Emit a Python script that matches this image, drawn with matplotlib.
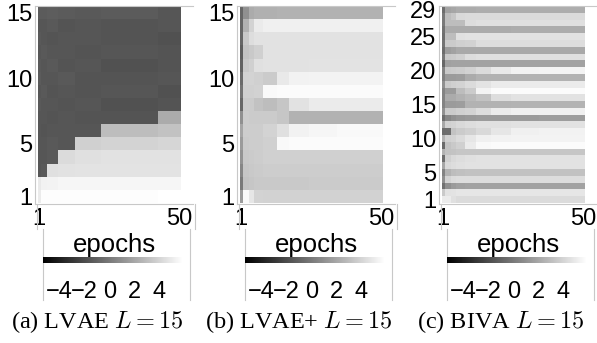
import numpy as np
import matplotlib
matplotlib.use("Agg")
import matplotlib.pyplot as plt

plt.rcParams["font.family"] = ["Liberation Sans", "DejaVu Sans"]
plt.rcParams["mathtext.fontset"] = "cm"

# log-KL per layer (rows, layer 1 first) over epochs, piecewise constant
# segments: each row value holds from seg start epoch until the next start
epochs_total = 50
cbar_ticks = [-4, -2, 0, 2, 4]
v_min, v_max = -5.3, 5.9

a_seg_start = [1, 2, 4, 8, 14, 23, 43]
a_rows = [
    [5.0, 5.8, 5.8, 5.8, 5.8, 5.8, 5.9],
    [4.9, 5.3, 5.4, 5.5, 5.5, 5.5, 5.5],
    [-1.5, -1.4, 4.5, 4.6, 4.7, 4.7, 4.7],
    [-1.5, -1.5, -1.4, 4.3, 4.5, 4.6, 4.6],
    [-1.5, -1.5, -1.4, -1.5, 3.8, 4.0, 4.1],
    [-1.5, -1.6, -1.5, -1.5, -1.5, 3.0, 3.2],
    [-1.5, -1.5, -1.6, -1.5, -1.6, -1.6, 2.2],
    [-1.4, -1.5, -1.5, -1.6, -1.5, -1.7, -1.6],
    [-1.5, -1.4, -1.6, -1.5, -1.6, -1.5, -1.7],
    [-1.3, -1.5, -1.5, -1.4, -1.6, -1.6, -1.5],
    [-1.4, -1.5, -1.4, -1.6, -1.5, -1.7, -1.6],
    [-1.5, -1.4, -1.5, -1.5, -1.6, -1.5, -1.6],
    [-1.4, -1.5, -1.6, -1.5, -1.5, -1.6, -1.7],
    [-1.5, -1.5, -1.4, -1.6, -1.5, -1.6, -1.5],
    [-1.3, -1.3, -1.2, -1.3, -1.4, -1.3, -1.5],
]

b_seg_start = [1, 2, 4, 6, 9, 14, 18, 25, 35]
b_rows = [
    [1.5, 5.6, 4.8, 4.0, 3.9, 3.9, 3.9, 3.9, 3.9],
    [0.0, 3.3, 3.4, 3.5, 3.5, 3.5, 3.5, 3.6, 3.6],
    [0.6, 3.4, 3.5, 3.6, 3.7, 3.7, 3.7, 3.7, 3.7],
    [1.2, 3.5, 3.6, 3.7, 3.8, 3.8, 3.8, 3.8, 3.8],
    [1.5, 3.6, 3.7, 3.7, 3.8, 5.6, 5.7, 5.7, 5.7],
    [2.0, 3.7, 3.7, 3.7, 4.0, 4.5, 5.3, 5.5, 5.6],
    [1.0, 3.7, 3.6, 3.6, 3.6, 3.4, 2.5, 2.5, 2.5],
    [-0.8, 3.6, 3.6, 3.2, 3.0, 3.4, 4.6, 5.0, 5.0],
    [-0.2, 3.8, 3.8, 3.9, 5.6, 5.7, 5.7, 5.7, 5.7],
    [-0.6, 3.9, 4.0, 3.8, 3.6, 4.9, 5.3, 5.4, 5.4],
    [-1.0, 3.5, 3.8, 4.5, 4.6, 4.6, 4.6, 4.7, 4.7],
    [-1.2, 3.3, 3.5, 3.8, 4.6, 4.6, 4.6, 4.6, 4.6],
    [-0.8, 3.5, 4.4, 4.6, 4.6, 4.6, 4.6, 4.6, 4.6],
    [-0.8, 2.5, 4.0, 5.0, 5.2, 5.2, 5.2, 5.2, 5.2],
    [-0.8, 1.0, 2.2, 2.4, 2.4, 2.5, 2.5, 2.5, 2.5],
]

c_seg_start = [1, 2, 4, 6, 9, 13, 18, 25, 35]
c_rows = [
    [5.0, 5.0, 4.5, 4.3, 4.3, 4.3, 4.3, 4.3, 4.3],
    [3.5, 4.6, 4.7, 4.8, 4.8, 4.8, 4.8, 4.8, 4.8],
    [-0.3, 1.0, 1.5, 1.7, 1.8, 1.8, 1.8, 1.8, 1.8],
    [1.0, 4.0, 4.3, 4.4, 4.4, 4.4, 4.4, 4.4, 4.4],
    [0.5, 2.6, 3.0, 3.1, 3.2, 3.2, 3.2, 3.2, 3.2],
    [2.0, 4.2, 4.4, 4.5, 4.6, 4.6, 4.6, 4.6, 4.6],
    [-0.5, 3.8, 4.2, 4.4, 4.5, 4.6, 4.6, 4.6, 4.6],
    [2.5, 3.2, 3.3, 3.4, 3.4, 3.4, 3.4, 3.4, 3.4],
    [-0.7, 3.2, 3.5, 3.8, 5.0, 5.6, 5.7, 5.7, 5.7],
    [2.5, 3.8, 4.0, 4.3, 4.8, 5.2, 5.3, 5.4, 5.4],
    [-0.6, -0.5, 3.3, 3.6, 3.8, 4.2, 4.8, 5.2, 5.3],
    [2.0, 3.8, 4.0, 4.2, 4.4, 4.5, 4.5, 4.6, 4.6],
    [-0.5, 0.6, 1.0, 1.3, 1.4, 1.5, 1.5, 1.5, 1.6],
    [1.0, 3.6, 3.6, 3.8, 4.0, 4.4, 5.0, 5.2, 5.2],
    [0.5, 1.5, 1.5, 1.6, 2.5, 2.5, 2.5, 2.6, 2.6],
    [0.5, 2.2, 2.2, 2.5, 2.8, 3.2, 4.4, 4.6, 4.6],
    [0.5, 1.5, 1.5, 3.0, 3.6, 5.4, 5.7, 5.7, 5.7],
    [1.0, 3.6, 3.8, 4.0, 4.3, 4.7, 5.0, 5.0, 5.0],
    [0.3, 1.5, 1.5, 1.6, 2.2, 2.5, 2.5, 2.5, 2.5],
    [0.5, 3.5, 3.6, 3.7, 3.9, 4.3, 4.9, 5.3, 5.4],
    [-0.8, 1.7, 1.8, 1.8, 1.8, 1.8, 1.8, 1.8, 1.8],
    [0.0, 3.5, 3.6, 3.8, 4.4, 4.5, 4.5, 4.5, 4.5],
    [-0.5, 1.6, 1.8, 2.1, 2.1, 2.1, 2.1, 2.1, 2.1],
    [-0.2, 3.6, 3.6, 3.8, 3.9, 4.4, 4.4, 4.4, 4.4],
    [-0.5, 3.0, 3.0, 4.5, 4.6, 4.6, 4.6, 4.6, 4.6],
    [-0.3, 2.2, 2.2, 2.2, 2.2, 2.2, 2.2, 2.3, 2.3],
    [0.0, 3.0, 3.0, 3.0, 4.4, 4.5, 4.5, 4.5, 4.5],
    [0.0, 3.0, 3.4, 4.2, 4.3, 4.3, 4.3, 4.3, 4.3],
    [-0.5, 1.8, 2.0, 2.2, 2.2, 2.3, 2.3, 2.3, 2.3],
]

a_yticks = [1, 5, 10, 15]
b_yticks = [1, 5, 10, 15]
c_yticks = [1, 5, 10, 15, 20, 25, 29]
captions = ["(a) LVAE $L=15$", "(b) LVAE+ $L=15$", "(c) BIVA $L=15$"]

W, H = 597, 343
LINE = "#c8c8c8"


def box(x0, y0, x1, y1):
    # pixel box (top-left origin) -> figure fraction rect
    return [x0 / W, 1 - y1 / H, (x1 - x0) / W, (y1 - y0) / H]


def expand(seg_start, rows):
    lengths = np.diff(seg_start + [epochs_total + 1])
    return np.array([np.repeat(r, lengths) for r in rows], dtype=float)


fig = plt.figure(figsize=(W / 100, H / 100), dpi=100)

panels = [
    (a_seg_start, a_rows, a_yticks),
    (b_seg_start, b_rows, b_yticks),
    (c_seg_start, c_rows, c_yticks),
]

for i, (seg, rows, yt) in enumerate(panels):
    ox = 202 * i
    mat = expand(seg, rows)
    n = mat.shape[0]

    ax = fig.add_axes(box(35 + ox, 6, 193 + ox, 204))
    im = ax.imshow(
        mat, cmap="gray", vmin=v_min, vmax=v_max, origin="lower",
        extent=(0.5, epochs_total + 0.5, 0.5, n + 0.5),
        aspect="auto", interpolation="nearest",
    )
    ax.set_xlim(-0.5, 55.0)
    ax.set_ylim(0.5 - n / 197.0, n + 0.5)
    ax.set_yticks(yt)
    ax.set_xticks([1, epochs_total])
    ax.tick_params(length=0, labelsize=17, pad=2)
    ax.tick_params(axis="x", pad=3)
    for s in ("top", "left", "bottom"):
        ax.spines[s].set_color(LINE)
        ax.spines[s].set_linewidth(0.8)
    ax.spines["right"].set_visible(False)
    ax.set_xlabel("epochs", fontsize=18.5, labelpad=2)

    # frames around tick-label strip and colorbar
    fr1 = fig.add_axes(box(37 + ox, 204, 195 + ox, 229))
    fr2 = fig.add_axes(box(43 + ox, 229, 190 + ox, 300))
    for fr in (fr1, fr2):
        fr.patch.set_visible(False)
        fr.set_xticks([])
        fr.set_yticks([])
        for s in ("top", "bottom"):
            fr.spines[s].set_visible(False)
        for s in ("left", "right"):
            fr.spines[s].set_color(LINE)
            fr.spines[s].set_linewidth(0.8)

    cax = fig.add_axes(box(43 + ox, 257, 183 + ox, 263))
    cb = fig.colorbar(im, cax=cax, orientation="horizontal", ticks=cbar_ticks)
    cb.outline.set_visible(False)
    cax.tick_params(length=0, labelsize=17, pad=13)

    fig.text(97 + ox, H - 322, captions[i], transform=None,
             ha="center", va="center", fontsize=17.5,
             family="Liberation Serif")

fig.savefig("out.png", dpi=100)
